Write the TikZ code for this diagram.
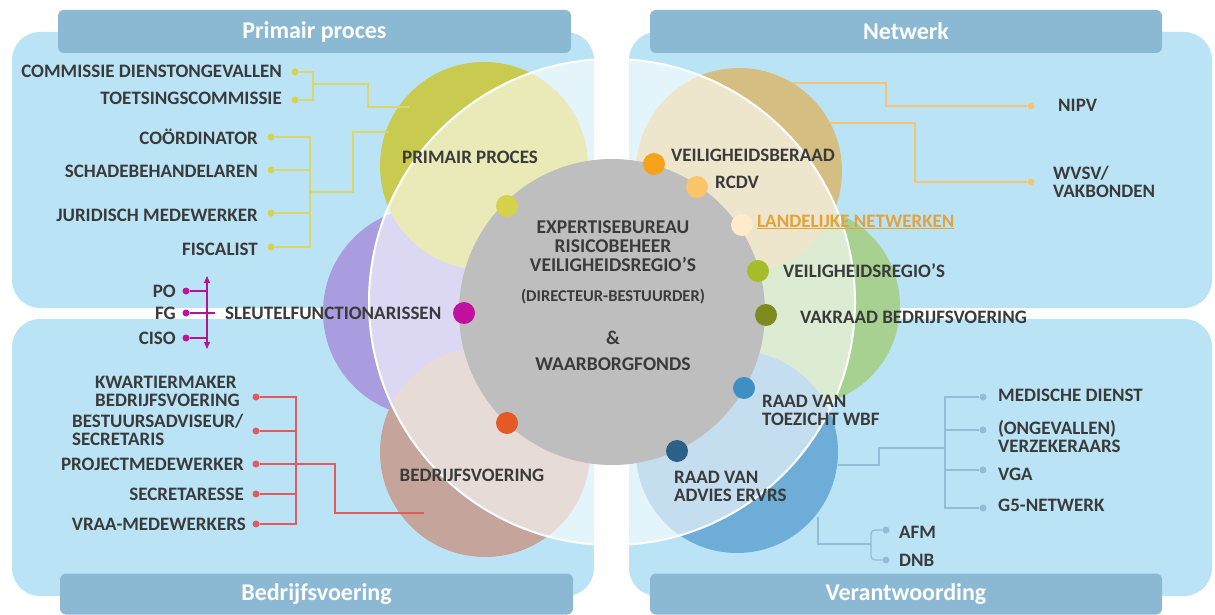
\documentclass[tikz,border=0pt]{standalone}
\usepackage{fontspec}
\setmainfont{Carlito}
\usetikzlibrary{arrows.meta}
\definecolor{panel}{HTML}{BAE4F6}
\definecolor{hdr}{HTML}{8BB9D4}
\definecolor{txt}{HTML}{3A3A3A}
\definecolor{pPurple}{HTML}{A99CDF}
\definecolor{pYellow}{HTML}{C8CB4F}
\definecolor{pTan}{HTML}{D4BE81}
\definecolor{pGreen}{HTML}{A6D191}
\definecolor{pBlue}{HTML}{6DADD8}
\definecolor{pRose}{HTML}{C5A59B}
\definecolor{core}{HTML}{BEBEBE}
\definecolor{cYel}{HTML}{D6D24A}
\definecolor{cOra}{HTML}{F7A21B}
\definecolor{cLor}{HTML}{FBC56B}
\definecolor{cCre}{HTML}{FDEBCB}
\definecolor{cLim}{HTML}{A6BD2A}
\definecolor{cOli}{HTML}{7C8A1E}
\definecolor{cBlu}{HTML}{3D8FC4}
\definecolor{cDbl}{HTML}{2C6088}
\definecolor{cRed}{HTML}{E45A24}
\definecolor{cMag}{HTML}{C2119F}
\definecolor{lYel}{HTML}{D9D66A}
\definecolor{lOra}{HTML}{F3C472}
\definecolor{lMag}{HTML}{B5168F}
\definecolor{lRed}{HTML}{E35A5E}
\definecolor{lBlu}{HTML}{93BDD5}
\definecolor{land}{HTML}{E3A23A}
\newcommand\lblf{\fontsize{19}{18.3}\selectfont\bfseries}
\newcommand\cenf{\fontsize{19.5}{18.6}\selectfont\bfseries}
\newcommand\smlf{\fontsize{16.5}{16}\selectfont\bfseries}
\newcommand\hdrf{\fontsize{24}{24}\selectfont\bfseries}
\tikzset{
  panelbox/.style={fill=panel, draw=none, rounded corners=28pt},
  hdrbox/.style={fill=hdr, rounded corners=6pt, text=white, font=\hdrf, inner sep=0pt},
  petal/.style={circle, inner sep=0pt, draw=none},
  bigdot/.style={circle, inner sep=0pt, minimum size=22pt},
  smalldot/.style={circle, inner sep=0pt, minimum size=7pt},
  lbl/.style={text=txt, font=\lblf, inner sep=0pt, text height=12pt, text depth=0pt},
  clbl/.style={text=txt, font=\cenf, inner sep=0pt, text height=12.3pt, text depth=0pt},
  mlbl/.style={text=txt, font=\lblf, inner sep=0pt, align=left, anchor=north west},
  conn/.style={line width=1.3pt},
}
\begin{document}
\begin{tikzpicture}[x=1pt,y=-1pt]
\useasboundingbox (0,0) rectangle (1215,615);
\fill[white] (0,0) rectangle (1215,615);
% panels
\path[panelbox] (12,32) rectangle (594,308);
\path[panelbox] (629,32) rectangle (1212,308);
\path[panelbox] (12,319) rectangle (594,596);
\path[panelbox] (629,319) rectangle (1212,596);
% headers
\node[hdrbox, minimum width=513pt, minimum height=43pt] (hPP) at (314.5,31.5) {Primair proces};
\node[hdrbox, minimum width=512pt, minimum height=43pt] (hNW) at (906,31.5) {Netwerk};
\node[hdrbox, minimum width=513pt, minimum height=41pt] (hBV) at (316.5,594) {Bedrijfsvoering};
\node[hdrbox, minimum width=512pt, minimum height=41pt] (hVA) at (906,594) {Verantwoording};
% petals
\node[petal, fill=pPurple, minimum size=210pt] (ptPu) at (428,312) {};
\node[petal, fill=pGreen, minimum size=200pt] (ptGr) at (800,306) {};
\node[petal, fill=pBlue, minimum size=202pt] (ptBl) at (737,452) {};
\node[petal, fill=pYellow, minimum size=208pt] (ptYe) at (484,166) {};
\node[petal, fill=pTan, minimum size=206pt] (ptTa) at (739,171) {};
\node[petal, fill=pRose, minimum size=210pt] (ptRo) at (485,452) {};
% big translucent circle
\node[circle, inner sep=0pt, minimum size=486pt, fill=white, fill opacity=0.6, draw=white, line width=2pt] (wc) at (612,302) {};
% core
\node[circle, inner sep=0pt, fill=core, minimum size=306pt] (core) at (612,312) {};
% center text
\node[text=txt, font=\cenf, inner sep=0pt, align=center, anchor=north] (ctr) at (613,221) {EXPERTISEBUREAU\\RISICOBEHEER\\VEILIGHEIDSREGIO’S};
\node[text=txt, font=\smlf, inner sep=0pt, text height=10.4pt, text depth=0pt] (dir) at (613,296) {(DIRECTEUR-BESTUURDER)};
\node[clbl] (amp) at (613,338) {\&};
\node[clbl] (wbf) at (613,364) {WAARBORGFONDS};
% dots on core
\node[bigdot, fill=cYel] (d1) at (507,206) {};
\node[bigdot, fill=cOra] (d2) at (654,164) {};
\node[bigdot, fill=cLor] (d3) at (697,187) {};
\node[bigdot, fill=cCre] (d4) at (742,225) {};
\node[bigdot, fill=cLim] (d5) at (758,271) {};
\node[bigdot, fill=cOli] (d6) at (766,315) {};
\node[bigdot, fill=cBlu] (d7) at (744,388) {};
\node[bigdot, fill=cDbl] (d8) at (677,451) {};
\node[bigdot, fill=cRed] (d9) at (507,423) {};
\node[bigdot, fill=cMag] (d10) at (464,313) {};
% labels around core
\node[lbl] (lPP) at (470,158) {PRIMAIR PROCES};
\node[lbl, anchor=west] (lVB) at (671,155) {VEILIGHEIDSBERAAD};
\node[lbl, anchor=west] (lRC) at (715,182) {RCDV};
\node[lbl, anchor=west, text=land] (lLN) at (757,221) {\underline{LANDELIJKE NETWERKEN}};
\node[lbl, anchor=west] (lVR) at (783,271) {VEILIGHEIDSREGIO’S};
\node[lbl, anchor=west] (lVK) at (800,317) {VAKRAAD BEDRIJFSVOERING};
\node[mlbl] (lTZ) at (762,395) {RAAD VAN\\TOEZICHT WBF};
\node[mlbl] (lAD) at (674,471) {RAAD VAN\\ADVIES ERVRS};
\node[lbl] (lBV) at (472,475) {BEDRIJFSVOERING};
\node[lbl, anchor=west] (lSF) at (225,313) {SLEUTELFUNCTIONARISSEN};
% --- primair proces group
\node[lbl, anchor=east] (tCD) at (282,72) {COMMISSIE DIENSTONGEVALLEN};
\node[lbl, anchor=east] (tTC) at (282,99) {TOETSINGSCOMMISSIE};
\node[smalldot, fill=cYel] (sCD) at (295,72) {};
\node[smalldot, fill=cYel] (sTC) at (295,100) {};
\coordinate (jA) at (313,84);
\coordinate (kA) at (368,107);
\coordinate (eA) at (409,107);
\draw[conn, lYel] (sCD) -| (jA);
\draw[conn, lYel] (sTC) -| (jA);
\draw[conn, lYel] (jA) -| (kA) -- (eA);
\node[lbl, anchor=east] (tCO) at (258,138) {COÖRDINATOR};
\node[lbl, anchor=east] (tSB) at (258,171) {SCHADEBEHANDELAREN};
\node[lbl, anchor=east] (tJM) at (258,215) {JURIDISCH MEDEWERKER};
\node[lbl, anchor=east] (tFI) at (258,249) {FISCALIST};
\node[smalldot, fill=cYel] (sCO) at (271,137) {};
\node[smalldot, fill=cYel] (sSB) at (271,170) {};
\node[smalldot, fill=cYel] (sJM) at (271,213) {};
\node[smalldot, fill=cYel] (sFI) at (271,247) {};
\coordinate (jB) at (310,192);
\coordinate (kB) at (353,132);
\coordinate (eB) at (389,132);
\draw[conn, lYel] (sCO) -| (jB);
\draw[conn, lYel] (sSB) -| (jB);
\draw[conn, lYel] (sJM) -| (jB);
\draw[conn, lYel] (sFI) -| (jB);
\draw[conn, lYel] (jB) -| (kB) -- (eB);
% --- sleutelfunctionarissen
\node[lbl, anchor=east] (tPO) at (176,291) {PO};
\node[lbl, anchor=east] (tFG) at (176,313) {FG};
\node[lbl, anchor=east] (tCI) at (176,338) {CISO};
\node[smalldot, fill=cMag] (sPO) at (186,291) {};
\node[smalldot, fill=cMag] (sFG) at (186,313) {};
\node[smalldot, fill=cMag] (sCI) at (186,338) {};
\coordinate (mTop) at (207,276);
\coordinate (mBot) at (207,349);
\draw[conn, lMag, {Triangle[length=7pt,width=6pt]}-{Triangle[length=7pt,width=6pt]}] (mTop) -- (mBot);
\draw[conn, lMag] (sPO) -- (sPO -| mTop);
\draw[conn, lMag] (sCI) -- (sCI -| mTop);
\draw[conn, lMag, shorten >=10pt] (sFG) -- (lSF.west);
% --- bedrijfsvoering group
\node[mlbl] (tKW) at (95,376) {KWARTIERMAKER\\BEDRIJFSVOERING};
\node[mlbl] (tBA) at (72,414) {BESTUURSADVISEUR/\\SECRETARIS};
\node[lbl, anchor=east] (tPM) at (244,464) {PROJECTMEDEWERKER};
\node[lbl, anchor=east] (tSE) at (244,494) {SECRETARESSE};
\node[lbl, anchor=east] (tVM) at (246,524) {VRAA-MEDEWERKERS};
\node[smalldot, fill=lRed] (sKW) at (256,397) {};
\node[smalldot, fill=lRed] (sBA) at (256,431) {};
\node[smalldot, fill=lRed] (sPM) at (256,464) {};
\node[smalldot, fill=lRed] (sSE) at (256,494) {};
\node[smalldot, fill=lRed] (sVM) at (256,524) {};
\coordinate (jR) at (296,464);
\coordinate (kR) at (335,513);
\coordinate (eR) at (424,513);
\draw[conn, lRed] (sKW) -| (jR);
\draw[conn, lRed] (sBA) -| (jR);
\draw[conn, lRed] (sSE) -| (jR);
\draw[conn, lRed] (sVM) -| (jR);
\draw[conn, lRed] (sPM) -- (jR) -| (kR) -- (eR);
% --- netwerk group
\node[smalldot, fill=lOra] (sNI) at (1031,106) {};
\node[smalldot, fill=lOra] (sWV) at (1031,182) {};
\node[lbl, anchor=west] (tNI) at (1058,106) {NIPV};
\node[mlbl] (tWV) at (1053,166) {WVSV/\\VAKBONDEN};
\coordinate (oA) at (793,83);
\coordinate (kN1) at (886,106);
\coordinate (oB) at (829,123);
\coordinate (kN2) at (915,182);
\draw[conn, lOra] (oA) -| (kN1) -- (sNI);
\draw[conn, lOra] (oB) -| (kN2) -- (sWV);
% --- verantwoording group
\node[smalldot, fill=lBlu] (sMD) at (983,397) {};
\node[smalldot, fill=lBlu] (sOV) at (983,430) {};
\node[smalldot, fill=lBlu] (sVG) at (983,470) {};
\node[smalldot, fill=lBlu] (sG5) at (983,508) {};
\node[lbl, anchor=west] (tMD) at (998,395) {MEDISCHE DIENST};
\node[mlbl] (tOV) at (998,420) {(ONGEVALLEN)\\VERZEKERAARS};
\node[lbl, anchor=west] (tVG) at (998,474) {VGA};
\node[lbl, anchor=west] (tG5) at (998,505) {G5-NETWERK};
\coordinate (jV) at (945,448);
\coordinate (kV) at (879,465);
\coordinate (eV) at (838,465);
\draw[conn, lBlu] (sMD) -| (jV);
\draw[conn, lBlu] (sOV) -| (jV);
\draw[conn, lBlu] (sVG) -| (jV);
\draw[conn, lBlu] (sG5) -| (jV);
\draw[conn, lBlu] (jV) -| (kV) -- (eV);
\node[smalldot, fill=lBlu] (sAF) at (886,530) {};
\node[smalldot, fill=lBlu] (sDN) at (886,560) {};
\node[lbl, anchor=west] (tAF) at (899,532) {AFM};
\node[lbl, anchor=west] (tDN) at (899,560) {DNB};
\coordinate (jF) at (871,544);
\coordinate (eF) at (818,517);
\draw[conn, lBlu, rounded corners=4pt] (sAF) -| (jF);
\draw[conn, lBlu, rounded corners=4pt] (sDN) -| (jF);
\draw[conn, lBlu] (jF) -| (eF);
\end{tikzpicture}
\end{document}
